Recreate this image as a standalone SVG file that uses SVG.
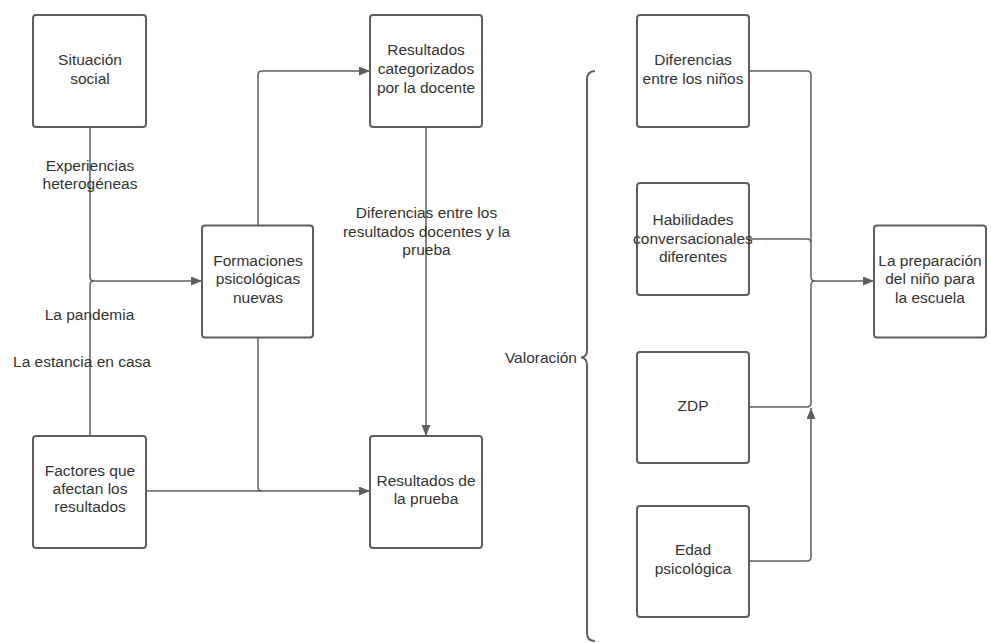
<svg xmlns="http://www.w3.org/2000/svg" width="991" height="643" viewBox="0 0 991 643">
<style>
.box{fill:#fff;stroke:#5e5e5e;stroke-width:2}
.t{font-family:"Liberation Sans",Arial,sans-serif;font-size:15.5px;fill:#333;text-anchor:middle}
.c{fill:none;stroke:#5e5e5e;stroke-width:1.5}
</style>
<defs>
<marker id="a" markerUnits="userSpaceOnUse" markerWidth="12" markerHeight="10" refX="11" refY="4.5" orient="auto">
<path d="M0,0 L11,4.5 L0,9 z" fill="#5e5e5e"/>
</marker>
</defs>
<rect width="991" height="643" fill="#fff"/>
<g id="connectors">
<path class="c" d="M90,127 V277 Q90,281 94,281 H202" marker-end="url(#a)"/>
<path class="c" d="M90,436 V285 Q90,281 94,281"/>
<path class="c" d="M258,225 V75 Q258,71 262,71 H370" marker-end="url(#a)"/>
<path class="c" d="M258,338 V487 Q258,491 262,491"/>
<path class="c" d="M146,491 H370" marker-end="url(#a)"/>
<path class="c" d="M426,127 V436" marker-end="url(#a)"/>
<path class="c" d="M749,71 H807 Q811,71 811,75 V277 Q811,281 815,281 H874" marker-end="url(#a)"/>
<path class="c" d="M749,239 H807 Q811,239 811,243"/>
<path class="c" d="M749,407 H807 Q811,407 811,403 V285 Q811,281 815,281"/>
<path class="c" d="M749,561 H807 Q811,561 811,557 V408" marker-end="url(#a)"/>
</g>
<g id="brace">
<path d="M595,71 Q587,71 587,80 V350 Q587,357 581,357.5 Q587,358 587,365 V633 Q587,641 595,641" fill="none" stroke="#5e5e5e" stroke-width="2"/>
</g>
<g id="labels">
<text class="t" x="90" y="170.5">Experiencias</text>
<text class="t" x="90" y="189">heterogéneas</text>
<text class="t" x="89.5" y="319.5">La pandemia</text>
<text class="t" x="82" y="367">La estancia en casa</text>
<text class="t" x="426.5" y="217.5">Diferencias entre los</text>
<text class="t" x="426.5" y="236.5">resultados docentes y la</text>
<text class="t" x="426.5" y="254.5">prueba</text>
<text class="t" x="577" y="363" style="text-anchor:end">Valoración</text>
</g>
<g id="n1"><rect class="box" x="33" y="15" width="113" height="112" rx="3"/>
<text class="t" x="90" y="64.5">Situación</text><text class="t" x="90" y="83.5">social</text></g>
<g id="n2"><rect class="box" x="202" y="225.5" width="111" height="112" rx="3"/>
<text class="t" x="258" y="265.5">Formaciones</text><text class="t" x="258" y="283.5">psicológicas</text><text class="t" x="258" y="302.5">nuevas</text></g>
<g id="n3"><rect class="box" x="370" y="15" width="112" height="112" rx="3"/>
<text class="t" x="426" y="54.5">Resultados</text><text class="t" x="426" y="73.5">categorizados</text><text class="t" x="426" y="92.5">por la docente</text></g>
<g id="n4"><rect class="box" x="370" y="436" width="112" height="112" rx="3"/>
<text class="t" x="426" y="485.5">Resultados de</text><text class="t" x="426" y="503.5">la prueba</text></g>
<g id="n5"><rect class="box" x="33" y="436" width="113" height="112" rx="3"/>
<text class="t" x="90" y="475.5">Factores que</text><text class="t" x="90" y="493.5">afectan los</text><text class="t" x="90" y="512">resultados</text></g>
<g id="n6"><rect class="box" x="637" y="15" width="112" height="112" rx="3"/>
<text class="t" x="693" y="64.5">Diferencias</text><text class="t" x="693" y="83.5">entre los niños</text></g>
<g id="n7"><rect class="box" x="637" y="183" width="112" height="112" rx="3"/>
<text class="t" x="693" y="224.5">Habilidades</text><text class="t" x="693" y="243.5">conversacionales</text><text class="t" x="693" y="261.5">diferentes</text></g>
<g id="n8"><rect class="box" x="637" y="352" width="112" height="111" rx="3"/>
<text class="t" x="693" y="410.5">ZDP</text></g>
<g id="n9"><rect class="box" x="637" y="506" width="112" height="111" rx="3"/>
<text class="t" x="693" y="554.5">Edad</text><text class="t" x="693" y="573.5">psicológica</text></g>
<g id="n10"><rect class="box" x="874" y="225.5" width="112" height="112" rx="3"/>
<text class="t" x="930" y="265.5">La preparación</text><text class="t" x="930" y="283.5">del niño para</text><text class="t" x="930" y="302.5">la escuela</text></g>
</svg>
